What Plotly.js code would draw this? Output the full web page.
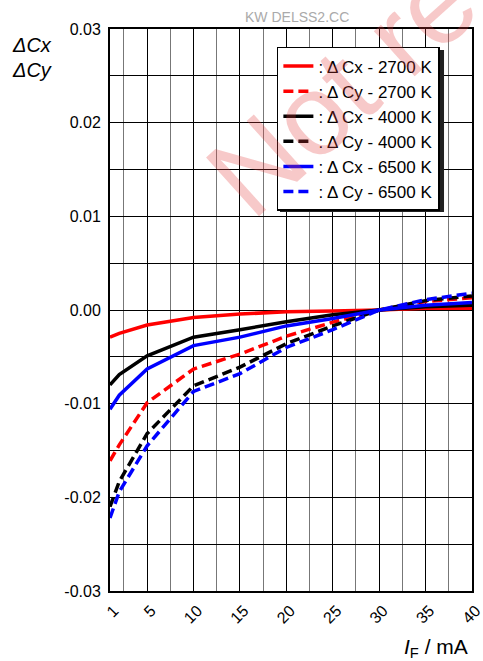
<!DOCTYPE html>
<html>
<head>
<meta charset="utf-8">
<script src="https://cdn.plot.ly/plotly-3.0.1.min.js"></script>
<style>html,body{margin:0;padding:0;background:#fff;}#chart{width:483px;height:661px;}</style>
</head>
<body>
<div id="chart"></div>
<script>
// Forward current I_F in mA
const currentMA = [1, 2, 5, 10, 15, 20, 25, 30, 35, 40];

// Chromaticity shifts
const dCx2700 = [-0.0029, -0.0025, -0.0016, -0.0008, -0.00043, -0.0002, -0.0001, 0, 0.0002, 0.0002];
const dCy2700 = [-0.0161, -0.0144, -0.0099, -0.0063, -0.0047, -0.0028, -0.0013, 0, 0.0009, 0.0013];
const dCx4000 = [-0.0080, -0.0069, -0.0049, -0.0029, -0.0021, -0.00125, -0.0005, 0, 0.00035, 0.0005];
const dCy4000 = [-0.0210, -0.0183, -0.0132, -0.0081, -0.0061, -0.0036, -0.0017, 0, 0.0010, 0.0015];
const dCx6500 = [-0.0106, -0.0091, -0.0063, -0.0038, -0.0029, -0.0017, -0.0009, 0, 0.0005, 0.0008];
const dCy6500 = [-0.0222, -0.0194, -0.0145, -0.0087, -0.0068, -0.0040, -0.0021, 0, 0.0011, 0.0018];

const seriesNames = [": \u0394 Cx - 2700 K", ": \u0394 Cy - 2700 K", ": \u0394 Cx - 4000 K",
                     ": \u0394 Cy - 4000 K", ": \u0394 Cx - 6500 K", ": \u0394 Cy - 6500 K"];

const xTickVals = [1, 5, 10, 15, 20, 25, 30, 35, 40];
const xTickText = ["1", "5", "10", "15", "20", "25", "30", "35", "40"];
const yTickVals = [-0.03, -0.02, -0.01, 0, 0.01, 0.02, 0.03];
const yTickText = ["-0.03", "-0.02", "-0.01", "0.00", "0.01", "0.02", "0.03"];

const FONT = "Liberation Sans, Arial, Helvetica, sans-serif";
const DASH = "10px,5px";

function line(y, name, color, dashed) {
  return {
    x: currentMA, y: y, name: name, type: "scatter", mode: "lines",
    line: {color: color, width: 3.5, dash: dashed ? DASH : "solid"},
    hoverinfo: "skip"
  };
}

const traces = [
  line(dCx2700, seriesNames[0], "#ff0000", false),
  line(dCy2700, seriesNames[1], "#ff0000", true),
  line(dCx4000, seriesNames[2], "#000000", false),
  line(dCy4000, seriesNames[3], "#000000", true),
  line(dCx6500, seriesNames[4], "#0000ff", false),
  line(dCy6500, seriesNames[5], "#0000ff", true)
];

const layout = {
  width: 483, height: 661,
  margin: {l: 110, r: 11, t: 29, b: 70, pad: 0},
  paper_bgcolor: "#ffffff", plot_bgcolor: "#ffffff",
  font: {family: FONT, size: 16, color: "#000"},
  showlegend: true,
  legend: {
    x: 0.461, y: 0.968, xanchor: "left", yanchor: "top",
    bgcolor: "#ffffff", bordercolor: "#000", borderwidth: 1.5,
    font: {family: FONT, size: 17, color: "#000"},
    traceorder: "normal"
  },
  xaxis: {
    range: [1, 40], tickmode: "array", tickvals: xTickVals, ticktext: xTickText,
    tickangle: -45, ticks: "", ticklabelshift: 4, ticklabelstandoff: 2,
    ticklabeloverflow: "allow",
    showgrid: true, gridcolor: "#000", gridwidth: 1,
    minor: {tickmode: "linear", tick0: 0, dtick: 2.5, showgrid: true, gridcolor: "#777", gridwidth: 1, ticks: ""},
    zeroline: false, showline: true, mirror: true, linecolor: "#000", linewidth: 2,
    tickfont: {family: FONT, size: 16}
  },
  yaxis: {
    range: [-0.03, 0.03], tickmode: "array", tickvals: yTickVals, ticktext: yTickText,
    ticks: "", showgrid: true, gridcolor: "#000", gridwidth: 1,
    minor: {tickmode: "linear", tick0: 0, dtick: 0.005, showgrid: true, gridcolor: "#000", gridwidth: 1, ticks: ""},
    zeroline: false, showline: true, mirror: true, linecolor: "#000", linewidth: 2,
    tickfont: {family: FONT, size: 16}, ticklabelstandoff: 4
  },
  shapes: [
    {type: "rect", xref: "paper", yref: "paper", layer: "above",
     x0: 0.4696, x1: 0.9227, y0: 0.6744, y1: 0.9626,
     fillcolor: "#222", line: {width: 0}}
  ],
  annotations: [
    {text: "Not re", xref: "paper", yref: "paper", x: 0.64, y: 0.895,
     xanchor: "center", yanchor: "middle", showarrow: false, textangle: -42,
     font: {family: FONT, size: 115, color: "rgba(225,60,60,0.28)"}},
    {text: "KW DELSS2.CC", xref: "paper", yref: "paper", x: 0.5166, y: 1.021,
     xanchor: "center", yanchor: "middle", showarrow: false,
     font: {family: FONT, size: 14, color: "#aaaaaa"}},
    {text: "<i>\u0394Cx</i>", xref: "paper", yref: "paper", x: -0.215, y: 0.9715,
     xanchor: "center", yanchor: "middle", showarrow: false,
     font: {family: FONT, size: 20, color: "#000"}},
    {text: "<i>\u0394Cy</i>", xref: "paper", yref: "paper", x: -0.215, y: 0.927,
     xanchor: "center", yanchor: "middle", showarrow: false,
     font: {family: FONT, size: 20, color: "#000"}},
    {text: "<i>I</i><sub>F</sub> / mA", xref: "paper", yref: "paper", x: 0.994, y: -0.101,
     xanchor: "right", yanchor: "middle", showarrow: false,
     font: {family: FONT, size: 21, color: "#000"}}
  ]
};

Plotly.newPlot("chart", traces, layout, {staticPlot: true, displayModeBar: false});
</script>
</body>
</html>
